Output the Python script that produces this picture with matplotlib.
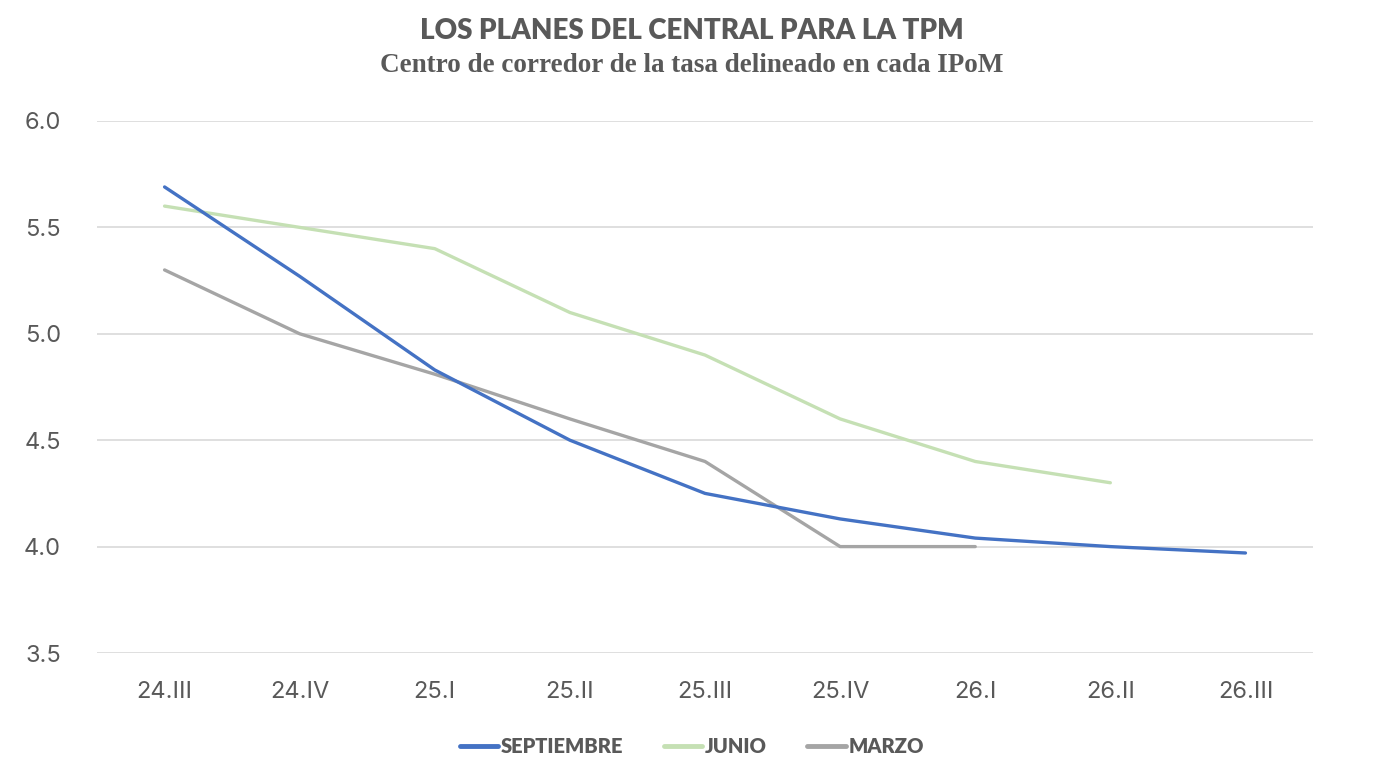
import matplotlib
matplotlib.use("Agg")
import matplotlib.pyplot as plt

categories = ["24.III", "24.IV", "25.I", "25.II", "25.III", "25.IV", "26.I", "26.II", "26.III"]
septiembre = [5.69, 5.27, 4.83, 4.50, 4.25, 4.13, 4.04, 4.00, 3.97]
junio = [5.60, 5.50, 5.40, 5.10, 4.90, 4.60, 4.40, 4.30]
marzo = [5.30, 5.00, 4.81, 4.60, 4.40, 4.00, 4.00]
yticks = [3.5, 4.0, 4.5, 5.0, 5.5, 6.0]

txt = "#595959"
fig = plt.figure(figsize=(13.84, 7.76), dpi=100)
ax = fig.add_axes([0.0701, 0.1585, 0.8786, 0.6856])

x = list(range(len(categories)))
ax.plot(x[:len(septiembre)], septiembre, color="#4472C4", lw=2.4, solid_capstyle="round", label="SEPTIEMBRE", zorder=3)
ax.plot(x[:len(junio)], junio, color="#C5E0B4", lw=2.4, solid_capstyle="round", label="JUNIO", zorder=2)
ax.plot(x[:len(marzo)], marzo, color="#A5A5A5", lw=2.4, solid_capstyle="round", label="MARZO", zorder=2)

ax.set_xlim(-0.5, len(categories) - 0.5)
ax.set_ylim(3.5, 6.0)
ax.set_yticks(yticks)
ax.set_yticklabels([f"{v:.1f}" for v in yticks])
ax.set_xticks(x)
ax.set_xticklabels(categories)
ax.grid(axis="y", color="#D9D9D9", lw=1.2)
ax.set_axisbelow(True)
for s in ax.spines.values():
    s.set_visible(False)
ax.tick_params(length=0, labelsize=17, labelcolor=txt)
ax.tick_params(axis="x", pad=20)
ax.tick_params(axis="y", pad=26)
for lab in ax.get_xticklabels() + ax.get_yticklabels():
    lab.set_family("Inter")
    lab.set_fontweight("normal")

fig.text(0.5, 0.960, "LOS PLANES DEL CENTRAL PARA LA TPM", ha="center", va="center",
         fontsize=20, fontweight="heavy", color=txt, family="Lato")
fig.text(0.5, 0.915, "Centro de corredor de la tasa delineado en cada IPoM", ha="center", va="center",
         fontsize=19.5, fontweight="bold", color=txt, family="Liberation Serif")

leg = fig.legend(loc="center", bbox_to_anchor=(0.5, 0.038), ncol=3, frameon=False,
                 handlelength=1.9, handletextpad=0.15, columnspacing=2.0,
                 prop={"family": "Lato", "weight": "heavy", "size": 14.5})
for t in leg.get_texts():
    t.set_color(txt)
for h in leg.get_lines():
    h.set_linewidth(3.5)

fig.savefig("out.png", dpi=100)
